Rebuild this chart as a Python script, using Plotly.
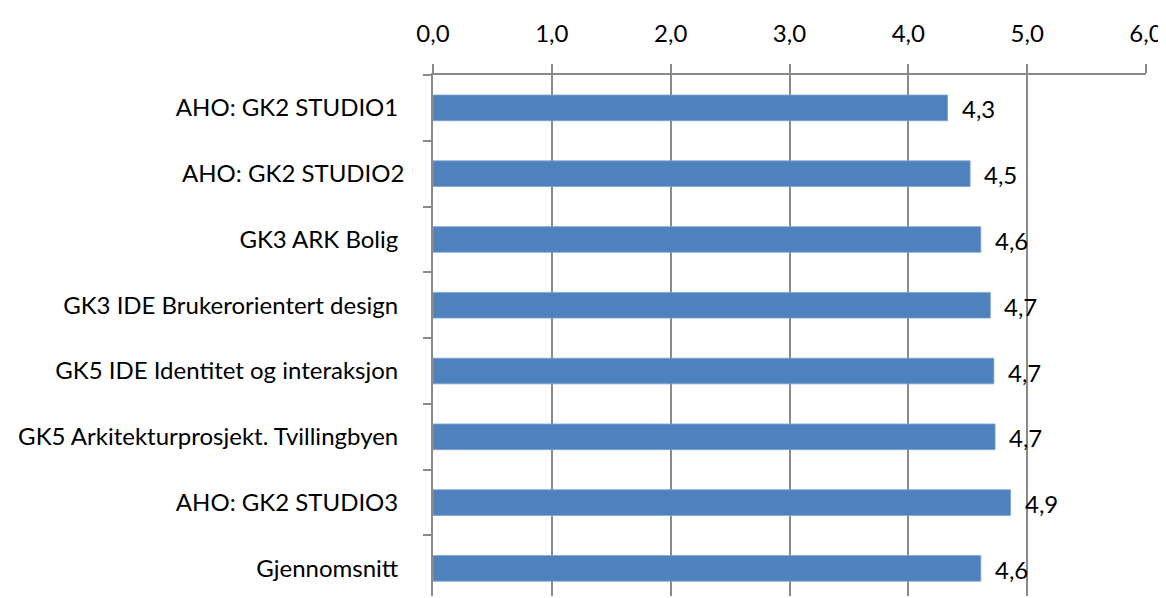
import plotly.graph_objects as go

categories = [
    "AHO: GK2 STUDIO1 ",
    "AHO: GK2 STUDIO2",
    "GK3 ARK Bolig ",
    "GK3 IDE Brukerorientert design ",
    "GK5 IDE Identitet og interaksjon ",
    "GK5 Arkitekturprosjekt. Tvillingbyen ",
    "AHO: GK2 STUDIO3 ",
    "Gjennomsnitt ",
]
values = [4.33, 4.52, 4.61, 4.69, 4.72, 4.73, 4.86, 4.61]
x_ticks = [0, 1, 2, 3, 4, 5, 6]

FONT = "Lato"
GRID = "#8a8a8a"
FS = 24

fig = go.Figure()
fig.add_trace(go.Bar(
    x=values, y=categories, orientation="h",
    marker=dict(color="#4F81BD", line=dict(color="#7FA3D3", width=0.8)),
    width=0.39,
    hoverinfo="skip",
))

for c, v in zip(categories, values):
    fig.add_annotation(
        x=v, y=c, text=f"{v:.1f}".replace(".", ","),
        showarrow=False, xanchor="left", yanchor="middle",
        xshift=12, yshift=-1,
        font=dict(family=FONT, size=FS, color="#000000"),
    )

fig.update_layout(
    width=1166, height=598,
    margin=dict(l=425, r=28, t=60, b=10),
    paper_bgcolor="white", plot_bgcolor="white",
    separators=", ",
    showlegend=False,
    font=dict(family=FONT, size=FS, color="#000000"),
    xaxis=dict(
        side="top", range=[0, 6], tickvals=x_ticks, tickformat=".1f",
        showgrid=True, gridcolor=GRID, gridwidth=1.6,
        showline=True, linecolor=GRID, linewidth=1.6,
        ticks="outside", ticklen=9, tickcolor=GRID, tickwidth=1.6,
        ticklabelstandoff=13,
        zeroline=False, fixedrange=True,
        tickfont=dict(family=FONT, size=FS),
    ),
    yaxis=dict(
        type="category", categoryorder="array", categoryarray=categories,
        range=[7.42, -0.5],
        showline=True, linecolor=GRID, linewidth=1.6,
        ticks="outside", ticklen=8, tickcolor=GRID, tickwidth=1.6,
        tickson="boundaries", showgrid=False,
        ticklabelstandoff=22,
        tickfont=dict(family=FONT, size=FS),
    ),
)

fig.write_html("out.html")
